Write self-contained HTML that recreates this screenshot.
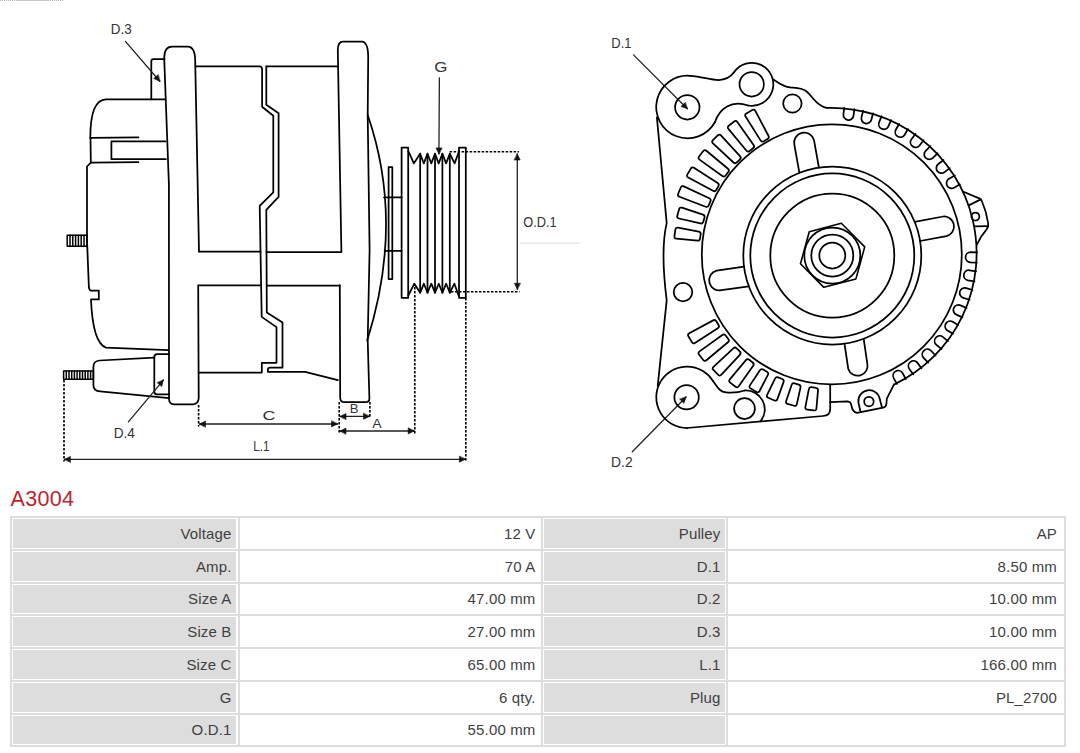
<!DOCTYPE html>
<html><head><meta charset="utf-8"><style>
html,body{margin:0;padding:0;background:#fff;}
body{width:1080px;height:753px;position:relative;overflow:hidden;font-family:"Liberation Sans",sans-serif;}
svg{position:absolute;left:0;top:0;}
svg path,svg circle,svg rect{fill:none;stroke:#000;stroke-width:1.75;stroke-linejoin:round;stroke-linecap:round;}
svg .th{stroke-width:1.5;}
svg .dim{stroke:#222;stroke-width:1.3;}
svg .ah{fill:#111;stroke:#111;stroke-width:0.6;}
svg .dot{stroke:#000;stroke-width:1.6;stroke-dasharray:2.5 1.5;stroke-linecap:butt;}
svg .faint{stroke:#d8d8d8;stroke-width:1;stroke-dasharray:1 1;}
svg .hex{stroke-width:1.6;}
svg .topfaint{stroke:#b0b0b0;stroke-width:1;stroke-dasharray:1 1;stroke-linecap:butt;}
svg .topfaint2{stroke:#c8c8c8;stroke-width:1;stroke-linecap:butt;}
svg text{font-family:"Liberation Sans",sans-serif;fill:#333;}
.title{position:absolute;left:10.5px;top:484.6px;font-size:21.5px;letter-spacing:0.3px;color:#bb242c;line-height:28px;white-space:nowrap;}
.tbl{position:absolute;left:10px;top:516px;width:1056px;height:231px;background:#dddddd;}
.w{position:absolute;background:#fff;}
.g{position:absolute;background:#dddddd;}
.t{position:absolute;top:0;bottom:0;line-height:31px;font-size:15px;color:#3f3f3f;letter-spacing:0.15px;white-space:nowrap;}
</style></head><body>
<svg width="1080" height="480" viewBox="0 0 1080 480">
<path d="M164.6,59.1 H153.6 Q151.3,59.1 151.3,61.4 V99.3"/>
<path d="M164.9,99.3 H106 C96,99.5 90.3,112 90.3,137.8"/>
<path d="M90.3,137.8 L138.4,137.4"/>
<path d="M90.5,137.8 L90.8,162.6"/>
<path d="M90.8,162.6 L138.4,162.2"/>
<path d="M165.6,141.4 H111.4 V159 H165.9"/>
<path d="M90.8,162.6 L87,166.5 L87,240 L88.9,287.5 Q89.5,290.5 91,290.5 H98.8 V299.4 H91 C92,325 96,344 106,347.6 L168.3,350.1"/>
<rect class="th" x="67.2" y="235.3" width="19.8" height="11"/>
<path class="th" d="M70,235.3 V246.3"/>
<path class="th" d="M72.8,235.3 V246.3"/>
<path class="th" d="M75.6,235.3 V246.3"/>
<path class="th" d="M78.4,235.3 V246.3"/>
<path class="th" d="M81.2,235.3 V246.3"/>
<path class="th" d="M84,235.3 V246.3"/>
<path d="M154.3,357.6 L99.5,360.5 Q93.4,361 93.4,367 V385 Q93.4,391 100.1,391.4 L169,398.2"/>
<path d="M169,354.2 H157.3 Q154.3,354.2 154.3,357.2 V391.4 Q154.3,394.4 157.3,394.4 H169"/>
<rect class="th" x="63.6" y="371.1" width="29.8" height="8.2"/>
<path class="th" d="M66.3,371.1 V379.3"/>
<path class="th" d="M69,371.1 V379.3"/>
<path class="th" d="M71.7,371.1 V379.3"/>
<path class="th" d="M74.4,371.1 V379.3"/>
<path class="th" d="M77.1,371.1 V379.3"/>
<path class="th" d="M79.8,371.1 V379.3"/>
<path class="th" d="M82.5,371.1 V379.3"/>
<path class="th" d="M85.2,371.1 V379.3"/>
<path class="th" d="M87.9,371.1 V379.3"/>
<path class="th" d="M90.6,371.1 V379.3"/>
<path d="M199,251.6 L195.2,61 Q195.2,47 187.8,46.7 H172 Q164.4,46.7 164.2,58 L168.9,184 L169,399 Q169.3,404.3 174,404.3 H193 Q198.5,404 198.7,398 L198.2,285.5"/>
<path d="M199,251.6 H260.6"/>
<path d="M266.4,252.1 H341.4"/>
<path d="M198.2,285.3 H260.9"/>
<path d="M266.7,285.5 H339.8"/>
<path d="M195.6,66.3 H259.5 Q262.1,66.3 262.1,69.5 V106.7 L273.3,115.7 V192.3 L259.7,205.9 L261.7,316.9 L276.5,327.1 V362.8 H261.8 V372.6 H198.6"/>
<path d="M266.3,66.3 V104.7 L278.6,113.3 V196.9 L266.3,209.8 L266.8,312.4 L282.5,322.6 V367.7 H270 Q267.9,367.7 267.9,369.8 V371.8 H305.1 L337.9,380.1"/>
<path d="M266.3,66.3 H337.6"/>
<path d="M341.4,251.7 L337.8,50 Q337.9,41.6 343,41.6 H361.5 C366,41.4 368.2,47 368.2,57 L367.7,115 L369.6,250 L367.7,340 L369.4,398.5 Q369.4,402.2 365.5,402.2 H344.5 Q340.3,402.2 340.2,398 L339.8,285.1"/>
<path d="M367.7,115 Q404.6,222 367.2,340.4"/>
<path d="M388.6,279 V167 H392.3 V279 Z"/>
<path d="M384,197.3 H401.6"/>
<path d="M384.6,250.8 H401.6"/>
<path d="M401.6,147.5 H408.2 V297.8 H401.6 Z"/>
<path d="M459,147.5 H465.8 V297.8 H459 Z"/>
<path d="M408.3,151 L413.9,163.4 L420.1,153.7 L423.8,163.4 L427.5,153.7 L431.3,163.4 L435,153.7 L438.7,163.4 L442.4,153.7 L446.1,163.4 L449.8,153.7 L454.6,163.4 L459,151.5"/>
<path d="M408.3,295.5 L414.3,283.7 L420.2,292.7 L423.9,283.7 L427.5,292.7 L431.3,283.7 L435,292.7 L438.8,283.7 L442.4,292.7 L446.2,283.7 L449.8,292.7 L454.4,283.7 L458.8,296"/>
<path d="M420.15,153.7 V292.7"/>
<path d="M427.5,153.7 V292.7"/>
<path d="M435,153.7 V292.7"/>
<path d="M442.4,153.7 V292.7"/>
<path d="M449.8,153.7 V292.7"/>
<path class="dim" d="M125.4,41.4 L159.8,81.2"/>
<path class="ah" d="M159.8,81.2 L153.68,78.56 L158.07,74.76 Z"/>
<path class="dim" d="M439.4,77.8 L438.9,153.9"/>
<path class="ah" d="M438.9,153.9 L436.04,147.88 L441.84,147.92 Z"/>
<path class="dim" d="M517.3,154 L517.3,289.3"/>
<path class="ah" d="M517.3,289.3 L514.4,283.3 L520.2,283.3 Z"/>
<path class="ah" d="M517.3,154 L520.2,160 L514.4,160 Z"/>
<path class="dim" d="M128.4,421.9 L163.4,380.1"/>
<path class="ah" d="M163.4,380.1 L161.77,386.56 L157.32,382.84 Z"/>
<path class="dim" d="M199.5,424 L337.5,424"/>
<path class="ah" d="M337.5,424 L331.5,426.9 L331.5,421.1 Z"/>
<path class="ah" d="M199.5,424 L205.5,421.1 L205.5,426.9 Z"/>
<path class="dim" d="M340,416.4 L369.5,416.4"/>
<path class="ah" d="M369.5,416.4 L363.5,419.3 L363.5,413.5 Z"/>
<path class="ah" d="M340,416.4 L346,413.5 L346,419.3 Z"/>
<path class="dim" d="M340,431 L414.2,431"/>
<path class="ah" d="M414.2,431 L408.2,433.9 L408.2,428.1 Z"/>
<path class="ah" d="M340,431 L346,428.1 L346,433.9 Z"/>
<path class="dim" d="M64.5,459.3 L465.4,459.3"/>
<path class="ah" d="M465.4,459.3 L459.4,462.2 L459.4,456.4 Z"/>
<path class="ah" d="M64.5,459.3 L70.5,456.4 L70.5,462.2 Z"/>
<path class="dim" d="M633.5,54.9 L687.3,108.7"/>
<path class="ah" d="M687.3,108.7 L681.01,106.51 L685.11,102.41 Z"/>
<path class="dim" d="M632.3,451.7 L686.1,397"/>
<path class="ah" d="M686.1,397 L683.96,403.31 L679.83,399.24 Z"/>
<path class="dot" d="M449.6,151.8 H519"/>
<path class="dot" d="M451,291.8 H519.5"/>
<path class="dot" d="M64,380 V461.4"/>
<path class="dot" d="M198.6,405 V426.6"/>
<path class="dot" d="M339.2,402 V433.6"/>
<path class="dot" d="M369.9,402 V418"/>
<path class="dot" d="M414.8,287 V434.2"/>
<path class="dot" d="M465.8,298 V461.5"/>
<path class="faint" d="M519.8,243.1 H580"/>
<circle cx="687.3" cy="107.3" r="12.2"/>
<circle cx="751.7" cy="84.3" r="12.2"/>
<circle cx="792.4" cy="103.5" r="9.2"/>
<circle cx="683" cy="292.1" r="9.3"/>
<circle cx="686.6" cy="397.3" r="12.2"/>
<circle cx="744.5" cy="408.6" r="10.4"/>
<circle cx="868.9" cy="401.5" r="4.75"/>
<circle cx="975.4" cy="216.5" r="4"/>
<circle cx="832.3" cy="255.5" r="13"/>
<circle cx="832.3" cy="255.5" r="21"/>
<circle cx="832.3" cy="255.5" r="28"/>
<path class="hex" d="M841.36,223.28 L864.71,246.88 L855.95,278.9 L823.84,287.32 L800.49,263.72 L809.25,231.7 Z"/>
<circle cx="832.3" cy="255.5" r="62"/>
<circle cx="832.3" cy="255.5" r="82"/>
<circle cx="832.3" cy="255.5" r="89"/>
<circle cx="831.8" cy="254.4" r="130"/>
<path d="M826.93,107.81 A145.6,145.6 0 0 1 893.91,384.66"/>
<path d="M715,122 A31.3,31.3 0 1 1 690.2,75.8"/>
<path d="M690.2,75.8 C702,76.5 710,80 718.5,80 C727,80 731,76.5 733.8,72.6"/>
<path d="M733.8,72.6 A21.5,21.5 0 1 1 748.1,105.5"/>
<path d="M715,122 C717,116 721,110 727,106.5 C733,103 740,102.5 748.1,105.5"/>
<path d="M773.1,79.3 C779,83 783,86.6 790,87.4 C796,88 801,87.6 806,91 C810,94 813,99 817,102.6 C820,105.2 823,107.4 827,107.8"/>
<path d="M656.9,117.5 L666.7,223.1 Q660.3,249.8 666.7,300.4 L657.7,385.8"/>
<path d="M687,428 A30.7,30.7 0 1 1 713,381"/>
<path d="M713,381 C717,386 719,391.8 726,392.4 C733,393.2 739,392.4 744.6,390.5"/>
<path d="M744.6,390.5 A18.9,18.9 0 0 1 760.6,421.2"/>
<path d="M830.2,385 V409 Q830.2,415.6 823,416 L687,428"/>
<path d="M893.91,384.66 L886.8,398.6 L886.4,404 Q886,407.2 883,407.6 L857,412.9 Q852.5,412 851.5,406 Q851,401.5 847.5,401.3 L830.2,402.2"/>
<path d="M860.5,411.8 L858.4,402.5 A10.7,10.7 0 0 1 879.9,399.5 L882,407.5"/>
<path d="M962.9,191.5 L979.8,198.6 Q981.4,199.4 982,201.5 Q986.6,212 988.2,223.5 Q988.6,226.6 986.6,229.4 Q980.4,236.5 976.9,244.7"/>
<path d="M968.7,205.4 L980.8,199.4"/>
<path d="M974.2,226.4 L988.3,226.2"/>
<path d="M799.41,172.8 L794.37,144.87 A10.1,10.1 0 0 1 814,140.12 L818.91,167.51"/>
<path d="M914.73,221.94 L941.8,216.76 A9.9,9.9 0 0 1 946.38,236.03 L920.11,241.01"/>
<path d="M863.69,338.78 L867.24,363.19 A9.9,9.9 0 0 1 848.21,368.65 L844.49,343.66"/>
<path d="M748.82,286.36 L721.51,290.15 A10.1,10.1 0 0 1 716.64,270.55 L744.01,266.74"/>
<path d="M700.05,238.67 Q699.72,240.94 697.43,240.72 L676.4,238.69 Q674.11,238.46 674.44,236.19 L675.41,229.46 Q675.74,227.18 678,227.61 L698.75,231.6 Q701,232.03 700.68,234.31 Z"/>
<path d="M703.32,221.77 Q702.7,223.99 700.46,223.47 L678.9,218.48 Q676.66,217.96 677.28,215.75 L679.11,209.2 Q679.73,206.98 681.91,207.7 L702.94,214.6 Q705.12,215.32 704.5,217.53 Z"/>
<path d="M708.74,205.44 Q707.84,207.56 705.69,206.74 L679.42,196.71 Q677.27,195.89 678.17,193.77 L680.82,187.51 Q681.72,185.39 683.81,186.37 L709.27,198.3 Q711.35,199.27 710.46,201.39 Z"/>
<path d="M716.21,189.94 Q715.05,191.93 713.02,190.84 L688.26,177.51 Q686.24,176.41 687.4,174.43 L690.84,168.57 Q692.01,166.58 693.95,167.82 L717.66,182.93 Q719.6,184.16 718.44,186.15 Z"/>
<path d="M725.62,175.54 Q724.21,177.36 722.35,176.01 L699.51,159.6 Q697.64,158.26 699.05,156.44 L703.22,151.07 Q704.63,149.25 706.39,150.73 L727.97,168.77 Q729.73,170.24 728.32,172.06 Z"/>
<path d="M736.81,162.46 Q735.18,164.09 733.5,162.51 L712.97,143.3 Q711.29,141.73 712.92,140.11 L717.74,135.32 Q719.38,133.69 720.93,135.39 L740.01,156.05 Q741.57,157.74 739.93,159.36 Z"/>
<path d="M749.59,150.94 Q747.76,152.34 746.3,150.56 L728.41,128.86 Q726.95,127.09 728.77,125.69 L734.18,121.56 Q736,120.17 737.33,122.04 L753.58,144.99 Q754.91,146.87 753.08,148.27 Z"/>
<path d="M763.74,141.16 Q761.75,142.31 760.53,140.36 L745.59,116.54 Q744.36,114.59 746.36,113.44 L752.24,110.04 Q754.24,108.89 755.31,110.92 L768.47,135.78 Q769.55,137.81 767.56,138.96 Z"/>
<path d="M718.56,325.05 Q719.73,327.03 717.79,328.27 L694.96,342.91 Q693.02,344.16 691.86,342.17 L688.41,336.31 Q687.24,334.33 689.26,333.24 L713.14,320.37 Q715.16,319.28 716.33,321.26 Z"/>
<path d="M728.32,338.94 Q729.73,340.76 727.97,342.23 L706.39,360.27 Q704.63,361.75 703.22,359.93 L699.05,354.56 Q697.64,352.74 699.51,351.4 L722.35,334.99 Q724.21,333.64 725.62,335.46 Z"/>
<path d="M739.77,351.47 Q741.39,353.1 739.83,354.79 L721.43,374.71 Q719.87,376.4 718.24,374.78 L713.42,369.98 Q711.79,368.35 713.48,366.79 L733.34,348.31 Q735.02,346.75 736.65,348.37 Z"/>
<path d="M752.71,362.45 Q754.53,363.86 753.2,365.74 L738.69,386.24 Q737.36,388.12 735.54,386.72 L730.15,382.57 Q728.33,381.17 729.81,379.4 L745.93,360.13 Q747.4,358.37 749.22,359.77 Z"/>
<path d="M766.95,371.7 Q768.93,372.86 767.88,374.91 L759.57,391.02 Q758.52,393.07 756.53,391.91 L750.66,388.47 Q748.67,387.31 749.94,385.39 L759.9,370.24 Q761.16,368.32 763.15,369.48 Z"/>
<path d="M782.24,379.06 Q784.36,379.96 783.57,382.12 L777.38,399.16 Q776.59,401.33 774.48,400.43 L768.22,397.77 Q766.1,396.87 767.11,394.8 L775.06,378.51 Q776.07,376.45 778.19,377.34 Z"/>
<path d="M798.8,384.54 Q801.01,385.15 800.52,387.4 L796.86,404.14 Q796.37,406.39 794.15,405.77 L787.6,403.95 Q785.39,403.34 786.12,401.16 L791.6,384.93 Q792.34,382.75 794.56,383.36 Z"/>
<path d="M815.93,387.81 Q818.2,388.13 818.01,390.42 L816.43,408.48 Q816.23,410.78 813.96,410.46 L807.22,409.51 Q804.94,409.19 805.38,406.93 L808.85,389.13 Q809.29,386.88 811.57,387.2 Z"/>
<path d="M844.25,107.76 L843.42,114.31 A5.1,5.1 0 0 0 853.54,115.59 L854.37,109.04"/>
<path d="M863.19,110.75 L861.51,117.13 A5.1,5.1 0 0 0 871.38,119.72 L873.06,113.34"/>
<path d="M881.58,116.19 L879.08,122.3 A5.1,5.1 0 0 0 888.52,126.16 L891.02,120.05"/>
<path d="M899.09,123.99 L895.82,129.72 A5.1,5.1 0 0 0 904.67,134.78 L907.95,129.05"/>
<path d="M915.44,134.01 L911.44,139.26 A5.1,5.1 0 0 0 919.55,145.44 L923.55,140.19"/>
<path d="M930.33,146.09 L925.68,150.77 A5.1,5.1 0 0 0 932.92,157.96 L937.57,153.28"/>
<path d="M943.51,160.01 L938.29,164.04 A5.1,5.1 0 0 0 944.52,172.12 L949.75,168.08"/>
<path d="M954.76,175.54 L949.05,178.85 A5.1,5.1 0 0 0 954.18,187.67 L959.88,184.36"/>
<path d="M977.19,252.33 L970.59,252.15 A5.1,5.1 0 0 0 970.3,262.34 L976.9,262.53"/>
<path d="M976.08,271.31 L969.56,270.27 A5.1,5.1 0 0 0 967.96,280.34 L974.48,281.38"/>
<path d="M972.53,289.98 L966.2,288.1 A5.1,5.1 0 0 0 963.3,297.88 L969.63,299.76"/>
<path d="M966.58,308.03 L960.55,305.35 A5.1,5.1 0 0 0 956.4,314.67 L962.43,317.35"/>
<path d="M958.34,325.16 L952.7,321.72 A5.1,5.1 0 0 0 947.39,330.42 L953.02,333.87"/>
<path d="M947.94,341.08 L942.8,336.93 A5.1,5.1 0 0 0 936.4,344.87 L941.54,349.02"/>
<path d="M935.57,355.51 L931.01,350.73 A5.1,5.1 0 0 0 923.64,357.78 L928.19,362.55"/>
<path d="M921.43,368.21 L917.53,362.89 A5.1,5.1 0 0 0 909.3,368.91 L913.2,374.24"/>
<path d="M905.77,378.97 L902.59,373.19 A5.1,5.1 0 0 0 893.65,378.1 L896.82,383.88"/>
<text x="110.73" y="33.9" font-size="13.90" textLength="20.89" lengthAdjust="spacingAndGlyphs">D.3</text>
<text x="434.15" y="71.6" font-size="14.71" textLength="13.18" lengthAdjust="spacingAndGlyphs">G</text>
<text x="523.22" y="226.6" font-size="14.71" textLength="33.44" lengthAdjust="spacingAndGlyphs">O.D.1</text>
<text x="262.50" y="419.6" font-size="13.60" textLength="12.95" lengthAdjust="spacingAndGlyphs">C</text>
<text x="349.75" y="413.0" font-size="13.40" textLength="8.73" lengthAdjust="spacingAndGlyphs">B</text>
<text x="372.33" y="427.9" font-size="13.40" textLength="9.40" lengthAdjust="spacingAndGlyphs">A</text>
<text x="253.37" y="451.2" font-size="14.64" textLength="16.22" lengthAdjust="spacingAndGlyphs">L.1</text>
<text x="113.71" y="438.1" font-size="13.90" textLength="21.22" lengthAdjust="spacingAndGlyphs">D.4</text>
<text x="611.36" y="47.5" font-size="13.90" textLength="20.20" lengthAdjust="spacingAndGlyphs">D.1</text>
<text x="611.09" y="467.0" font-size="13.90" textLength="21.51" lengthAdjust="spacingAndGlyphs">D.2</text>
<path class="topfaint" d="M0,0.5 H16"/>
<path class="topfaint2" d="M16,0.5 H48"/>
<path class="topfaint" d="M48,0.5 H64"/>
</svg>
<div class="title">A3004</div>
<div class="tbl"></div>
<div class="w" style="left:12px;top:518px;width:226px;height:31px"><div class="g" style="left:1px;top:1px;width:223px;height:29px"></div><span class="t" style="right:6.5px;line-height:31px">Voltage</span></div><div class="w" style="left:240px;top:518px;width:301px;height:31px"><span class="t" style="right:5.5px;line-height:31px">12 V</span></div><div class="w" style="left:543px;top:518px;width:183px;height:31px"><div class="g" style="left:1px;top:1px;width:181px;height:29px"></div><span class="t" style="right:5.5px;line-height:31px">Pulley</span></div><div class="w" style="left:728px;top:518px;width:336px;height:31px"><span class="t" style="right:7px;line-height:31px">AP</span></div><div class="w" style="left:12px;top:551px;width:226px;height:31px"><div class="g" style="left:1px;top:1px;width:223px;height:29px"></div><span class="t" style="right:6.5px;line-height:31px">Amp.</span></div><div class="w" style="left:240px;top:551px;width:301px;height:31px"><span class="t" style="right:5.5px;line-height:31px">70 A</span></div><div class="w" style="left:543px;top:551px;width:183px;height:31px"><div class="g" style="left:1px;top:1px;width:181px;height:29px"></div><span class="t" style="right:5.5px;line-height:31px">D.1</span></div><div class="w" style="left:728px;top:551px;width:336px;height:31px"><span class="t" style="right:7px;line-height:31px">8.50 mm</span></div><div class="w" style="left:12px;top:584px;width:226px;height:30px"><div class="g" style="left:1px;top:1px;width:223px;height:28px"></div><span class="t" style="right:6.5px;line-height:30px">Size A</span></div><div class="w" style="left:240px;top:584px;width:301px;height:30px"><span class="t" style="right:5.5px;line-height:30px">47.00 mm</span></div><div class="w" style="left:543px;top:584px;width:183px;height:30px"><div class="g" style="left:1px;top:1px;width:181px;height:28px"></div><span class="t" style="right:5.5px;line-height:30px">D.2</span></div><div class="w" style="left:728px;top:584px;width:336px;height:30px"><span class="t" style="right:7px;line-height:30px">10.00 mm</span></div><div class="w" style="left:12px;top:616px;width:226px;height:31px"><div class="g" style="left:1px;top:1px;width:223px;height:29px"></div><span class="t" style="right:6.5px;line-height:31px">Size B</span></div><div class="w" style="left:240px;top:616px;width:301px;height:31px"><span class="t" style="right:5.5px;line-height:31px">27.00 mm</span></div><div class="w" style="left:543px;top:616px;width:183px;height:31px"><div class="g" style="left:1px;top:1px;width:181px;height:29px"></div><span class="t" style="right:5.5px;line-height:31px">D.3</span></div><div class="w" style="left:728px;top:616px;width:336px;height:31px"><span class="t" style="right:7px;line-height:31px">10.00 mm</span></div><div class="w" style="left:12px;top:649px;width:226px;height:31px"><div class="g" style="left:1px;top:1px;width:223px;height:29px"></div><span class="t" style="right:6.5px;line-height:31px">Size C</span></div><div class="w" style="left:240px;top:649px;width:301px;height:31px"><span class="t" style="right:5.5px;line-height:31px">65.00 mm</span></div><div class="w" style="left:543px;top:649px;width:183px;height:31px"><div class="g" style="left:1px;top:1px;width:181px;height:29px"></div><span class="t" style="right:5.5px;line-height:31px">L.1</span></div><div class="w" style="left:728px;top:649px;width:336px;height:31px"><span class="t" style="right:7px;line-height:31px">166.00 mm</span></div><div class="w" style="left:12px;top:682px;width:226px;height:31px"><div class="g" style="left:1px;top:1px;width:223px;height:29px"></div><span class="t" style="right:6.5px;line-height:31px">G</span></div><div class="w" style="left:240px;top:682px;width:301px;height:31px"><span class="t" style="right:5.5px;line-height:31px">6 qty.</span></div><div class="w" style="left:543px;top:682px;width:183px;height:31px"><div class="g" style="left:1px;top:1px;width:181px;height:29px"></div><span class="t" style="right:5.5px;line-height:31px">Plug</span></div><div class="w" style="left:728px;top:682px;width:336px;height:31px"><span class="t" style="right:7px;line-height:31px">PL_2700</span></div><div class="w" style="left:12px;top:715px;width:226px;height:30px"><div class="g" style="left:1px;top:1px;width:223px;height:28px"></div><span class="t" style="right:6.5px;line-height:30px">O.D.1</span></div><div class="w" style="left:240px;top:715px;width:301px;height:30px"><span class="t" style="right:5.5px;line-height:30px">55.00 mm</span></div><div class="w" style="left:543px;top:715px;width:183px;height:30px"><div class="g" style="left:1px;top:1px;width:181px;height:28px"></div><span class="t" style="right:5.5px;line-height:30px"></span></div><div class="w" style="left:728px;top:715px;width:336px;height:30px"><span class="t" style="right:7px;line-height:30px"></span></div>
</body></html>
